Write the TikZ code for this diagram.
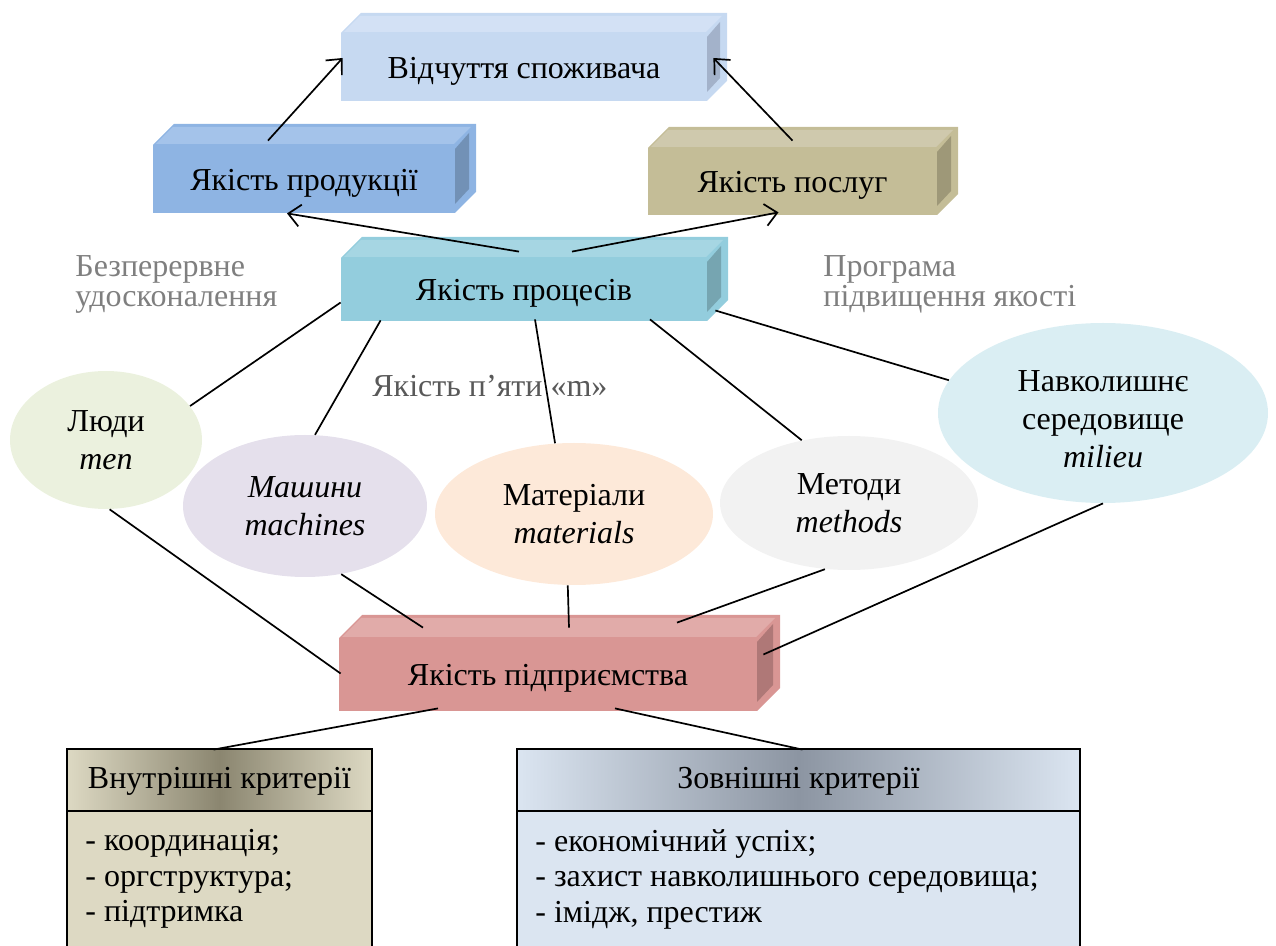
\documentclass[tikz,border=0pt]{standalone}
\usepackage{fontspec}
\setmainfont{Liberation Serif}
\usetikzlibrary{arrows.meta,calc,shapes.geometric}
\definecolor{vidB}{HTML}{C6D9F1}\definecolor{vidT}{HTML}{D3E1F5}\definecolor{vidS}{HTML}{A3B2CA}
\definecolor{prodB}{HTML}{8EB4E3}\definecolor{prodT}{HTML}{A4C3EA}\definecolor{prodS}{HTML}{7291B6}
\definecolor{poslB}{HTML}{C4BD97}\definecolor{poslT}{HTML}{CFC9AD}\definecolor{poslS}{HTML}{9E9878}
\definecolor{procB}{HTML}{93CDDD}\definecolor{procT}{HTML}{A6D6E3}\definecolor{procS}{HTML}{76A5B1}
\definecolor{pidpB}{HTML}{D99694}\definecolor{pidpT}{HTML}{E1ABA9}\definecolor{pidpS}{HTML}{AF7877}
\definecolor{ludyC}{HTML}{EBF1DE}\definecolor{mashC}{HTML}{E5E0EC}\definecolor{matC}{HTML}{FDE9D9}
\definecolor{mthC}{HTML}{F2F2F2}\definecolor{navC}{HTML}{DAEEF3}
\definecolor{intBody}{HTML}{DDD9C3}\definecolor{intDark}{HTML}{8B8670}
\definecolor{extBody}{HTML}{DBE5F1}\definecolor{extDark}{HTML}{8C95A2}
\definecolor{noteGray}{HTML}{7F7F7F}\definecolor{mGray}{HTML}{595959}
% #1 name, #2 x1, #3 y1, #4 x2, #5 y2 (front face, px), #6 depth, #7 colour prefix, #8 text
\newcommand\qbox[8]{%
  \fill[#7B] (#2,#3) -- (#2+#6,#3-#6) -- (#4+#6,#3-#6) -- (#4+#6,#5-#6) -- (#4,#5) -- (#2,#5) -- cycle;
  \fill[#7T] (#2+3,#3-1) -- (#2+#6-1,#3-#6+3) -- (#4+#6-5,#3-#6+3) -- (#4-1,#3-1) -- cycle;
  \fill[#7S] (#4,#3+4) -- (#4+#6-7,#3+9-#6) -- (#4+#6-7,#5-#6-3) -- (#4,#5-9) -- cycle;
  \pgfmathsetmacro\qw{(#4-#2)/2}\pgfmathsetmacro\qh{(#5-#3)/2}%
  \node[boxtext, minimum width=\qw pt, minimum height=\qh pt] (#1) at ({(#2+#4)/2},{(#3+#5)/2}) {#8};
}
\begin{document}
\begin{tikzpicture}[x=0.5pt,y=-0.5pt,
  every node/.style={font=\fontsize{16}{19}\selectfont, inner sep=0pt},
  boxtext/.style={text height=13pt, text depth=1.5pt},
  oval/.style={ellipse, inner sep=0pt, align=center},
  conn/.style={line width=0.85pt},
  arr/.style={conn, -{Straight Barb[length=6pt,width=11pt]}},
  note/.style={text=noteGray, align=left, anchor=north west, font=\fontsize{16}{15}\selectfont},
  frame/.style={line width=0.7pt},
  listtext/.style={align=left, anchor=north west, font=\fontsize{16}{17.75}\selectfont},
]
\useasboundingbox (0,0) rectangle (1276,946);
\clip (0,0) rectangle (1276,946);

% 3D boxes
\qbox{vid}{341}{33}{707}{101}{20}{vid}{Відчуття споживача}
\qbox{prod}{153}{145}{455}{213}{21}{prod}{Якість продукції}
\qbox{posl}{648}{148}{937}{215}{21}{posl}{Якість послуг}
\qbox{proc}{341}{258}{707}{321}{21}{proc}{Якість процесів}
\qbox{pidp}{339}{638}{757}{711}{23}{pidp}{Якість підприємства}

% ellipses
\node[oval, fill=ludyC, minimum width=96pt, minimum height=69pt] (ludy) at (106,440) {Люди\\\textit{men}};
\node[oval, fill=mashC, minimum width=122pt, minimum height=71pt] (mash) at (305,506) {\textit{Машини}\\\textit{machines}};
\node[oval, fill=matC, minimum width=139pt, minimum height=71pt] (mat) at (574,514) {Матеріали\\\textit{materials}};
\node[oval, fill=mthC, minimum width=129pt, minimum height=67pt] (mth) at (849,503) {Методи\\\textit{methods}};
\node[oval, fill=navC, minimum width=165pt, minimum height=90pt, text height=55pt, text depth=0pt] (nav) at (1103,413) {Навколишнє\\середовище\\\textit{milieu}};

% grey labels
\node[note] (bez) at (75,255) {Безперервне\\удосконалення};
\node[note] (prog) at (823,255) {Програма\\підвищення якості};
\node[anchor=base west, text=mGray] (five) at (372,397) {Якість п’яти «m»};

% bottom boxes
\shade[left color=intBody, right color=intBody, middle color=intDark] (67,749) rectangle (372,811);
\fill[intBody] (67,811) rectangle (372,960);
\draw[frame] (67,960) -- (67,749) -- (372,749) -- (372,960) (67,811) -- (372,811);
\node[minimum width=152.5pt, minimum height=31pt] (intH) at (219.5,781) {Внутрішні критерії};
\node[listtext] (intL) at (85,829) {- координація;\\- оргструктура;\\- підтримка};

\shade[left color=extBody, right color=extBody, middle color=extDark] (517,749) rectangle (1080,811);
\fill[extBody] (517,811) rectangle (1080,960);
\draw[frame] (517,960) -- (517,749) -- (1080,749) -- (1080,960) (517,811) -- (1080,811);
\node[minimum width=281.5pt, minimum height=31pt] (extH) at (798.5,781) {Зовнішні критерії};
\node[listtext] (extL) at (535,829) {- економічний успіх;\\- захист навколишнього середовища;\\- імідж, престиж};

% arrows
\draw[arr] ($(prod.north)+(-36,-4)$) -- ($(vid.west)+(2,-9)$);
\draw[arr] ($(posl.north)+(0,-7)$) -- ($(vid.east)+(6,-9)$);
\draw[arr] ($(proc.north)+(-5,-6)$) -- ($(prod.south)+(-17,0)$);
\draw[arr] ($(proc.north)+(48,-6)$) -- ($(posl.south)+(-14,-3)$);

% lines from processes
\draw[conn] ($(proc.west)+(0,13)$) -- (ludy.22);
\draw[conn] ($(proc.south west)+(40,-1)$) -- (mash.82);
\draw[conn] ($(proc.south)+(11,-2)$) -- (mat.105);
\draw[conn] ($(proc.south)+(126,-2)$) -- (mth.127);
\draw[conn] ($(proc.east)+(8,21)$) -- (nav.168);

% lines to enterprise
\draw[conn] (ludy.-87) -- ($(pidp.west)+(2,-1)$);
\draw[conn] (mash.-62) -- ($(pidp.north)+(-125,-10)$);
\draw[conn] (mat.-95) -- ($(pidp.north)+(21,-10)$);
\draw[conn] (mth.-110) -- ($(pidp.north)+(129,-15)$);
\draw[conn] (nav.-90) -- ($(pidp.east)+(6,-20)$);

% lines to criteria
\draw[conn] ($(pidp.south)+(-110,-3)$) -- ($(intH.north)+(-6,0)$);
\draw[conn] ($(pidp.south)+(67,-3)$) -- ($(extH.north)+(4,0)$);
\end{tikzpicture}
\end{document}
